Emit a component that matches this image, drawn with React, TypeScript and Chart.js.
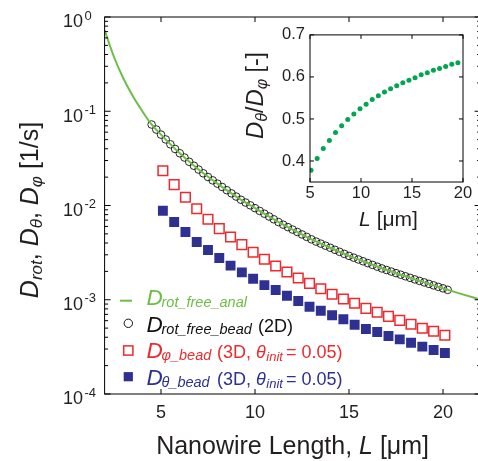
import React, { useEffect, useRef } from "react";
import { Chart, registerables } from "chart.js";

Chart.register(...registerables);

// ---------------- data ----------------
// analytical free-rotation curve
const curveL = [2, 2.5, 3, 3.5, 4, 4.5, 5, 6, 7, 8, 9, 10, 11, 12, 13, 14, 15, 16, 17, 18, 19, 20, 21, 22];
const curveD = [0.728, 0.3763, 0.2226, 0.1451, 0.1006, 0.07236, 0.05652, 0.03582, 0.02407, 0.01705, 0.01244,
  0.009374, 0.00714, 0.005555, 0.004378, 0.003563, 0.002922, 0.002449, 0.002068, 0.001774, 0.001528, 0.001321,
  0.001148, 0.001004];

// 2D bead simulation (open circles)
const circleL = [4.5, 4.75, 5, 5.25, 5.5, 5.75, 6, 6.25, 6.5, 6.75, 7, 7.25, 7.5, 7.75, 8, 8.25, 8.5, 8.75, 9, 9.25,
  9.5, 9.75, 10, 10.25, 10.5, 10.75, 11, 11.25, 11.5, 11.75, 12, 12.25, 12.5, 12.75, 13, 13.25, 13.5, 13.75, 14,
  14.25, 14.5, 14.75, 15, 15.25, 15.5, 15.75, 16, 16.25, 16.5, 16.75, 17, 17.25, 17.5, 17.75, 18, 18.25, 18.5,
  18.75, 19, 19.25, 19.5, 19.75, 20, 20.25];
const circleD = [0.07236, 0.06393, 0.05652, 0.0502, 0.04459, 0.03977, 0.03582, 0.03228, 0.02909, 0.02642, 0.02407,
  0.02195, 0.02005, 0.01848, 0.01705, 0.01573, 0.01453, 0.01345, 0.01244, 0.01151, 0.01075, 0.01004, 0.009374,
  0.008756, 0.008179, 0.007641, 0.00714, 0.00667, 0.006259, 0.005896, 0.005555, 0.005234, 0.004931, 0.004646,
  0.004378, 0.004142, 0.003939, 0.003747, 0.003563, 0.003389, 0.003224, 0.003066, 0.002922, 0.002795, 0.002675,
  0.00256, 0.002449, 0.002344, 0.002243, 0.002149, 0.002068, 0.001991, 0.001916, 0.001844, 0.001774, 0.001708,
  0.001644, 0.001585, 0.001528, 0.001474, 0.001421, 0.00137, 0.001321, 0.001274];

// 3D bead simulation (squares)
const beadL = [5.1, 5.7, 6.3, 6.9, 7.5, 8.1, 8.7, 9.3, 9.9, 10.5, 11.1, 11.7, 12.3, 12.9, 13.5, 14.1, 14.7, 15.3,
  15.9, 16.5, 17.1, 17.7, 18.3, 18.9, 19.5, 20.1];
const phiD = [0.0234, 0.01663, 0.01223, 0.00925, 0.00714, 0.00568, 0.00463, 0.00384, 0.00319, 0.00269, 0.00228,
  0.00197, 0.0017, 0.00149, 0.00131, 0.001143, 0.001019, 0.000919, 0.000811, 0.000736, 0.000667, 0.000605,
  0.000549, 0.000498, 0.000463, 0.00042];
const thetaD = [0.00881, 0.00668, 0.00524, 0.0041, 0.00337, 0.00277, 0.0023, 0.00195, 0.00167, 0.00143, 0.00127,
  0.001104, 0.00097, 0.000844, 0.000765, 0.000684, 0.000621, 0.000543, 0.000489, 0.000455, 0.000412, 0.00038,
  0.00035, 0.000318, 0.000293, 0.000272];

// inset: ratio D_theta / D_phi
const insetL = [5.1, 5.7, 6.3, 6.9, 7.5, 8.1, 8.7, 9.3, 9.9, 10.5, 11.1, 11.7, 12.3, 12.9, 13.5, 14.1, 14.7, 15.3,
  15.9, 16.5, 17.1, 17.7, 18.3, 18.9, 19.5];
const insetRatio = [0.378, 0.406, 0.43, 0.449, 0.468, 0.484, 0.499, 0.512, 0.524, 0.535, 0.546, 0.555, 0.564,
  0.572, 0.579, 0.586, 0.592, 0.598, 0.605, 0.61, 0.616, 0.62, 0.625, 0.63, 0.634];

// tick values
const mainXTicks = [5, 10, 15, 20];
const mainYExponents = [0, -1, -2, -3, -4];
const insetXTicks = [5, 10, 15, 20];
const insetYTicks = [0.4, 0.5, 0.6, 0.7];

// ---------------- styles ----------------
const FONT = "'Liberation Sans', Arial, Helvetica, sans-serif";
const TXT = "#231f20";
const GREEN = "#6dbe45";
const RED = "#ec2a2f";
const BLUE = "#2e3192";
const DOT_GREEN = "#00a651";

type Seg = { t: string; size: number; italic?: boolean; dy?: number; gap?: number };

function richWidth(ctx: CanvasRenderingContext2D, segs: Seg[]) {
  let w = 0;
  for (const s of segs) {
    ctx.font = `${s.italic ? "italic " : ""}${s.size}px ${FONT}`;
    w += ctx.measureText(s.t).width + (s.gap || 0);
  }
  return w;
}

function drawRich(ctx: CanvasRenderingContext2D, x: number, y: number, segs: Seg[], color: string) {
  let cx = x;
  ctx.textBaseline = "alphabetic";
  ctx.textAlign = "left";
  ctx.fillStyle = color;
  for (const s of segs) {
    ctx.font = `${s.italic ? "italic " : ""}${s.size}px ${FONT}`;
    ctx.fillText(s.t, cx, y + (s.dy || 0));
    cx += ctx.measureText(s.t).width + (s.gap || 0);
  }
  return cx;
}

function legendTail(ctx: CanvasRenderingContext2D, y: number, color: string) {
  drawRich(
    ctx,
    217,
    y,
    [
      { t: "(3D, ", size: 18 },
      { t: "\u03b8", size: 18, italic: true, gap: 0.5 },
      { t: "init", size: 13, italic: true, dy: 2.7, gap: 3 },
      { t: "= 0.05)", size: 18 },
    ],
    color
  );
}

const mainDecor = {
  id: "mainDecor",
  afterDraw(chart: any) {
    const { ctx, chartArea: a, scales } = chart;
    const xs = scales.x;
    const ys = scales.y;
    ctx.save();
    ctx.strokeStyle = "#000";
    ctx.lineWidth = 1;
    ctx.strokeRect(a.left, a.top, a.right - a.left, a.bottom - a.top);
    ctx.beginPath();
    for (const v of mainXTicks) {
      const px = xs.getPixelForValue(v);
      ctx.moveTo(px, a.bottom); ctx.lineTo(px, a.bottom - 5);
      ctx.moveTo(px, a.top); ctx.lineTo(px, a.top + 5);
    }
    for (const e of mainYExponents) {
      const py = ys.getPixelForValue(Math.pow(10, e));
      ctx.moveTo(a.left, py); ctx.lineTo(a.left + 6, py);
      ctx.moveTo(a.right, py); ctx.lineTo(a.right - 6, py);
      if (e < 0) {
        for (let m = 2; m <= 9; m++) {
          const pm = ys.getPixelForValue(m * Math.pow(10, e));
          ctx.moveTo(a.left, pm); ctx.lineTo(a.left + 3.5, pm);
          ctx.moveTo(a.right, pm); ctx.lineTo(a.right - 3.5, pm);
        }
      }
    }
    ctx.stroke();

    // y tick labels 10^e
    ctx.fillStyle = TXT;
    for (const e of mainYExponents) {
      const py = ys.getPixelForValue(Math.pow(10, e));
      ctx.font = `18px ${FONT}`;
      ctx.textAlign = "right";
      ctx.textBaseline = "alphabetic";
      ctx.fillText("10", 83, py + 10.3);
      ctx.font = `13px ${FONT}`;
      ctx.textAlign = "left";
      ctx.fillText(e === 0 ? "0" : "-" + String(-e), 84.5, py + 2.5);
    }

    // x title
    const xt: Seg[] = [
      { t: "Nanowire Length, ", size: 25 },
      { t: "L", size: 25, italic: true },
      { t: " [\u03bcm]", size: 25 },
    ];
    const xw = richWidth(ctx, xt);
    drawRich(ctx, (a.left + a.right) / 2 - xw / 2, 454, xt, TXT);

    // y title (rotated)
    const yt: Seg[] = [
      { t: "D", size: 25, italic: true },
      { t: "rot", size: 17, italic: true, dy: 4 },
      { t: ", ", size: 25 },
      { t: "D", size: 25, italic: true },
      { t: "\u03b8", size: 17, italic: true, dy: 4 },
      { t: ", ", size: 25 },
      { t: "D", size: 25, italic: true },
      { t: "\u03c6", size: 17, italic: true, dy: 4 },
      { t: " [1/s]", size: 25 },
    ];
    const yw = richWidth(ctx, yt);
    ctx.save();
    ctx.translate(37.5, 210 + yw / 2);
    ctx.rotate(-Math.PI / 2);
    drawRich(ctx, 0, 0, yt, TXT);
    ctx.restore();

    // legend
    const sx = 128.3;
    // row 1: line
    ctx.strokeStyle = GREEN;
    ctx.lineWidth = 2;
    ctx.beginPath(); ctx.moveTo(120, 300.7); ctx.lineTo(132, 300.7); ctx.stroke();
    drawRich(ctx, 146.5, 305, [{ t: "D", size: 22.5, italic: true }], GREEN);
    drawRich(ctx, 161.5, 307, [{ t: "rot_free_anal", size: 14.5, italic: true }], GREEN);
    // row 2: circle
    ctx.strokeStyle = "#111";
    ctx.lineWidth = 1;
    ctx.beginPath(); ctx.arc(sx, 323.3, 4.2, 0, Math.PI * 2); ctx.stroke();
    drawRich(ctx, 146.5, 331.7, [{ t: "D", size: 22.5, italic: true }], "#111");
    drawRich(ctx, 161.5, 333.7, [{ t: "rot_free_bead", size: 14.5, italic: true }], "#111");
    drawRich(ctx, 258, 331.7, [{ t: "(2D)", size: 18 }], "#111");
    // row 3: open red square
    ctx.strokeStyle = RED;
    ctx.lineWidth = 1.5;
    ctx.strokeRect(sx - 4.6, 350.5 - 4.6, 9.2, 9.2);
    drawRich(ctx, 146.5, 358.3, [{ t: "D", size: 22.5, italic: true }], RED);
    drawRich(ctx, 161.5, 360.3, [{ t: "\u03c6_bead", size: 14.5, italic: true }], RED);
    legendTail(ctx, 358.3, RED);
    // row 4: filled blue square
    ctx.fillStyle = BLUE;
    ctx.fillRect(sx - 4.6, 376.7 - 4.6, 9.2, 9.2);
    drawRich(ctx, 146.5, 385, [{ t: "D", size: 22.5, italic: true }], BLUE);
    drawRich(ctx, 161.5, 387, [{ t: "\u03b8_bead", size: 14.5, italic: true }], BLUE);
    legendTail(ctx, 385, BLUE);
    ctx.restore();
  },
};

const insetDecor = {
  id: "insetDecor",
  afterDraw(chart: any) {
    const { ctx, chartArea: a, scales } = chart;
    const xs = scales.x;
    const ys = scales.y;
    ctx.save();
    ctx.strokeStyle = "#000";
    ctx.lineWidth = 1;
    ctx.strokeRect(a.left, a.top, a.right - a.left, a.bottom - a.top);
    ctx.beginPath();
    for (const v of insetXTicks) {
      const px = xs.getPixelForValue(v);
      ctx.moveTo(px, a.bottom); ctx.lineTo(px, a.bottom - 4);
      ctx.moveTo(px, a.top); ctx.lineTo(px, a.top + 4);
    }
    for (const v of insetYTicks) {
      const py = ys.getPixelForValue(v);
      ctx.moveTo(a.left, py); ctx.lineTo(a.left + 4, py);
      ctx.moveTo(a.right, py); ctx.lineTo(a.right - 4, py);
    }
    ctx.stroke();

    const xt: Seg[] = [
      { t: "L", size: 21, italic: true },
      { t: " [\u03bcm]", size: 21 },
    ];
    const xw = richWidth(ctx, xt);
    drawRich(ctx, (a.left + a.right) / 2 - xw / 2 + 2, 205.5, xt, TXT);

    const yt: Seg[] = [
      { t: "D", size: 24, italic: true },
      { t: "\u03b8", size: 16, italic: true, dy: 4 },
      { t: "/", size: 23 },
      { t: "D", size: 24, italic: true },
      { t: "\u03c6", size: 16, italic: true, dy: 4 },
      { t: " [-]", size: 23 },
    ];
    ctx.save();
    ctx.translate(33, 119);
    ctx.rotate(-Math.PI / 2);
    drawRich(ctx, 0, 0, yt, TXT);
    ctx.restore();
    ctx.restore();
  },
};

const whiteBg = {
  id: "whiteBg",
  beforeDraw(chart: any) {
    const { ctx, width, height } = chart;
    ctx.save();
    ctx.fillStyle = "#fff";
    ctx.fillRect(0, 0, width, height);
    ctx.restore();
  },
};

export default function App() {
  const mainRef = useRef<HTMLCanvasElement | null>(null);
  const insetRef = useRef<HTMLCanvasElement | null>(null);

  useEffect(() => {
    const mainCanvas = mainRef.current!;
    const insetCanvas = insetRef.current!;

    const main = new Chart(mainCanvas, {
      type: "scatter",
      data: {
        datasets: [
          {
            label: "D_rot_free_anal",
            data: curveL.map((x, i) => ({ x, y: curveD[i] })),
            showLine: true,
            borderColor: GREEN,
            borderWidth: 2,
            pointRadius: 0,
            cubicInterpolationMode: "monotone",
            fill: false,
          } as any,
          {
            label: "D_rot_free_bead (2D)",
            data: circleL.map((x, i) => ({ x, y: circleD[i] })),
            pointStyle: "circle",
            pointRadius: 3.8,
            borderColor: "#111",
            borderWidth: 0.9,
            backgroundColor: "rgba(0,0,0,0)",
          },
          {
            label: "D_phi_bead (3D, theta_init = 0.05)",
            data: beadL.map((x, i) => ({ x, y: phiD[i] })),
            pointStyle: "rect",
            pointRadius: 6.8,
            borderColor: RED,
            borderWidth: 1.5,
            backgroundColor: "rgba(255,255,255,0)",
          },
          {
            label: "D_theta_bead (3D, theta_init = 0.05)",
            data: beadL.map((x, i) => ({ x, y: thetaD[i] })),
            pointStyle: "rect",
            pointRadius: 7,
            borderWidth: 0,
            borderColor: BLUE,
            backgroundColor: BLUE,
          },
        ],
      },
      options: {
        responsive: false,
        animation: false,
        devicePixelRatio: 1,
        layout: { padding: { left: 0, right: 490 - 480.6, top: 17, bottom: 0 } },
        plugins: { legend: { display: false }, tooltip: { enabled: false } },
        scales: {
          x: {
            type: "linear",
            min: 2,
            max: 22,
            grid: { display: false, drawTicks: false },
            border: { display: false },
            afterBuildTicks: (s: any) => {
              s.ticks = mainXTicks.map((v) => ({ value: v }));
            },
            afterFit: (s: any) => {
              s.height = 461 - 394;
            },
            ticks: {
              font: { family: FONT, size: 18 },
              color: TXT,
              padding: 8,
              maxRotation: 0,
              autoSkip: false,
            },
          },
          y: {
            type: "logarithmic",
            min: 1e-4,
            max: 1,
            grid: { display: false, drawTicks: false },
            border: { display: false },
            ticks: { display: false },
            afterFit: (s: any) => {
              s.width = 104.6;
            },
          },
        },
      } as any,
      plugins: [whiteBg, mainDecor],
    });

    const inset = new Chart(insetCanvas, {
      type: "scatter",
      data: {
        datasets: [
          {
            label: "D_theta/D_phi",
            data: insetL.map((x, i) => ({ x, y: insetRatio[i] })),
            pointStyle: "circle",
            pointRadius: 2.5,
            borderWidth: 0,
            backgroundColor: DOT_GREEN,
            borderColor: DOT_GREEN,
          },
        ],
      },
      options: {
        responsive: false,
        animation: false,
        devicePixelRatio: 1,
        layout: { padding: { left: 0, right: 12, top: 14, bottom: 0 } },
        plugins: { legend: { display: false }, tooltip: { enabled: false } },
        scales: {
          x: {
            type: "linear",
            min: 5,
            max: 20,
            grid: { display: false, drawTicks: false },
            border: { display: false },
            afterBuildTicks: (s: any) => {
              s.ticks = insetXTicks.map((v) => ({ value: v }));
            },
            afterFit: (s: any) => {
              s.height = 53;
            },
            ticks: {
              font: { family: FONT, size: 16.5 },
              color: TXT,
              padding: 2,
              maxRotation: 0,
              autoSkip: false,
            },
          },
          y: {
            type: "linear",
            min: 0.35,
            max: 0.7,
            grid: { display: false, drawTicks: false },
            border: { display: false },
            afterBuildTicks: (s: any) => {
              s.ticks = insetYTicks.map((v) => ({ value: v }));
            },
            afterFit: (s: any) => {
              s.width = 80;
            },
            ticks: {
              font: { family: FONT, size: 16.5 },
              color: TXT,
              padding: 5,
              autoSkip: false,
              callback: (v: any) => Number(v).toFixed(1),
            },
          },
        },
      } as any,
      plugins: [insetDecor],
    });

    return () => {
      main.destroy();
      inset.destroy();
    };
  }, []);

  return (
    <div
      style={{
        position: "fixed",
        left: 0,
        top: 0,
        width: 478,
        height: 461,
        overflow: "hidden",
        background: "#fff",
      }}
    >
      <canvas
        ref={mainRef}
        width={490}
        height={461}
        style={{ position: "absolute", left: 0, top: 0, width: 490, height: 461 }}
      />
      <canvas
        ref={insetRef}
        width={245}
        height={215}
        style={{ position: "absolute", left: 230, top: 20, width: 245, height: 215 }}
      />
    </div>
  );
}
